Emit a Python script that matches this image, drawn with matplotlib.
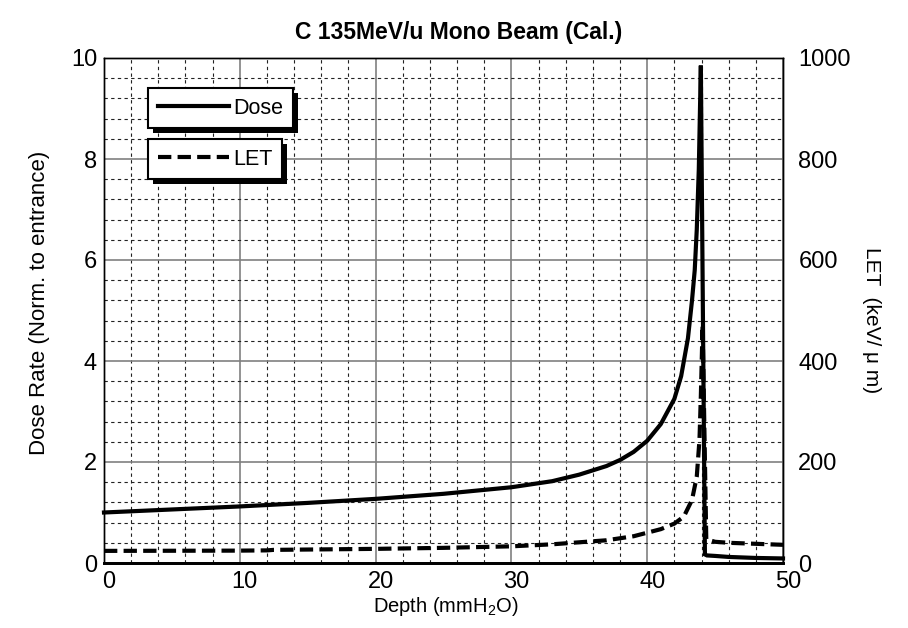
import matplotlib
matplotlib.use("Agg")
import matplotlib.pyplot as plt
from matplotlib.patches import Rectangle
from matplotlib.ticker import MultipleLocator
from matplotlib.transforms import ScaledTranslation

# ---- data ----
dose_depth = [0, 5, 10, 15, 20, 25, 30, 33, 35, 37, 38, 39, 40, 41, 42, 42.5, 43,
              43.3, 43.5, 43.65, 43.8, 43.95, 44.25, 44.4, 45, 46, 47, 48, 50]
dose_val = [1.00, 1.06, 1.12, 1.19, 1.27, 1.37, 1.50, 1.62, 1.75, 1.92, 2.04, 2.20,
            2.42, 2.75, 3.25, 3.70, 4.45, 5.2, 5.8, 6.6, 7.8, 9.85, 0.17, 0.15,
            0.14, 0.12, 0.11, 0.10, 0.09]

let_depth = [0, 10, 12, 12.5, 20, 25, 30, 33, 35, 37, 38, 39, 40, 41, 42, 42.7,
             43.3, 43.65, 43.85, 43.95, 44.08, 44.35, 45, 46, 48, 50]
let_val = [24, 24.5, 25, 26, 28, 30, 33, 37, 41, 45, 49, 53, 60, 67, 78, 92,
           125, 171, 244, 330, 471, 47, 42, 40, 38, 36]

x_ticks = [0, 10, 20, 30, 40, 50]
y_ticks = [0, 2, 4, 6, 8, 10]
y2_ticks = [0, 200, 400, 600, 800, 1000]

title = "C 135MeV/u Mono Beam (Cal.)"
xlabel = "Depth (mmH$_2$O)"
ylabel = "Dose Rate (Norm. to entrance)"
y2label = "LET  (keV/ μ m)"

# ---- figure ----
plt.rcParams['font.family'] = ['Liberation Sans', 'DejaVu Sans']
plt.rcParams['mathtext.fontset'] = 'custom'
plt.rcParams['mathtext.rm'] = 'Liberation Sans'

W, H = 908, 628
fig = plt.figure(figsize=(W / 100, H / 100), dpi=100)
L, R, B, T = 104, 783, 563, 58
ax = fig.add_axes([L / W, 1 - B / H, (R - L) / W, (B - T) / H])
ax2 = ax.twinx()

ax.set_xlim(0, 50)
ax.set_ylim(0, 10)
ax2.set_ylim(0, 1000)
ax.set_xticks(x_ticks)
ax.set_yticks(y_ticks)
ax2.set_yticks(y2_ticks)
ax.xaxis.set_minor_locator(MultipleLocator(2))
ax.yaxis.set_minor_locator(MultipleLocator(0.4))

ax.grid(which='major', color='#808080', linestyle='-', linewidth=1.2)
ax.grid(which='minor', color='#222222', linestyle=(0, (3, 3)), linewidth=0.8)
ax.set_axisbelow(True)

ax.tick_params(axis='x', which='both', length=0, labelsize=17, pad=6)
ax.tick_params(axis='y', which='both', length=0, labelsize=17, pad=5)
ax2.tick_params(which='both', length=0, labelsize=17, pad=11)

for lab in ax.get_xticklabels():
    lab.set_transform(lab.get_transform() + ScaledTranslation(5 / 100, 0, fig.dpi_scale_trans))

for sp in ['left', 'right', 'top']:
    ax.spines[sp].set_linewidth(1.0)
    ax2.spines[sp].set_linewidth(1.0)
ax.spines['bottom'].set_linewidth(2.0)
ax2.spines['bottom'].set_linewidth(2.0)

l1, = ax.plot(dose_depth, dose_val, color='black', linewidth=3.0,
              solid_joinstyle='miter', clip_on=False, zorder=5)
l2, = ax2.plot(let_depth, let_val, color='black', linewidth=3.0,
               dashes=(3.2, 1.5), clip_on=False, zorder=5)

fig.text(459 / W, 1 - 33 / H, title, ha='center', va='center',
         fontsize=16.5, fontweight='bold')
fig.text((L + R) / 2 / W + 2 / W, 1 - 606 / H, xlabel, ha='center', va='center', fontsize=14.5)
fig.text(40 / W, 1 - 303 / H, ylabel, ha='center', va='center', fontsize=16,
         rotation=90)
fig.text(872 / W, 1 - 320 / H, y2label, ha='center', va='center', fontsize=15,
         rotation=270)

# ---- legends ----
legs = []
for handle, label, top in [(l1, 'Dose', 88), (l2, 'LET', 139)]:
    lg = fig.legend(handles=[handle], labels=[label], loc='upper left',
                    bbox_to_anchor=(148 / W, 1 - top / H),
                    bbox_transform=fig.transFigure,
                    frameon=True, fancybox=False, framealpha=1,
                    edgecolor='black', borderpad=0.45, handlelength=3.3,
                    handletextpad=0.2, borderaxespad=0,
                    prop={'size': 15.5})
    lg.get_frame().set_linewidth(1.5)
    lg.set_zorder(10)
    legs.append(lg)

fig.canvas.draw()
for lg in legs:
    bb = lg.get_window_extent()
    sh = Rectangle((bb.x0 + 5, bb.y0 - 5), bb.width, bb.height,
                   transform=None, facecolor='black', edgecolor='none', zorder=9)
    fig.patches.append(sh)

fig.savefig('out.png', dpi=100)
